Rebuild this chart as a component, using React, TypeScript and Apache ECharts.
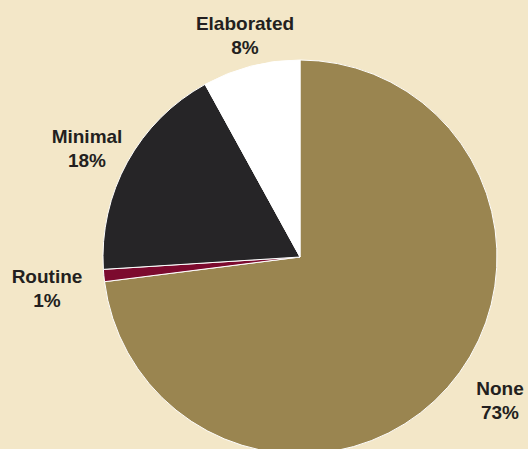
import React, { useEffect, useRef } from "react";
import * as echarts from "echarts";

const categories = ["None", "Routine", "Minimal", "Elaborated"];
const values = [73, 1, 18, 8];
const colors = ["#9A8550", "#7C0A2E", "#262527", "#FFFFFF"];
const labelPos: [number, number][] = [
  [500, 400],
  [47, 288],
  [87, 148],
  [245, 35],
];

export default function App() {
  const ref = useRef<HTMLDivElement>(null);
  useEffect(() => {
    document.body.style.margin = "0";
    if (!ref.current) return;
    const chart = echarts.init(ref.current, null, { renderer: "svg" });
    chart.setOption({
      animation: false,
      backgroundColor: "#F3E7C8",
      series: [
        {
          type: "pie",
          center: [300, 257],
          radius: 197,
          startAngle: 90,
          clockwise: true,
          data: categories.map((name, i) => ({
            name,
            value: values[i],
            itemStyle: { color: colors[i] },
          })),
          itemStyle: { borderColor: "#FFFFFF", borderWidth: 1 },
          label: {
            show: true,
            position: "outside",
            alignTo: "none",
            overflow: "none",
            formatter: "{b}\n{c}%",
            fontFamily: "Liberation Sans, Arial, sans-serif",
            fontWeight: "bold",
            fontSize: 19,
            lineHeight: 24,
            color: "#231F20",
            align: "center",
          },
          labelLine: { show: false },
          labelLayout: (params: any) => ({
            x: labelPos[params.dataIndex][0],
            y: labelPos[params.dataIndex][1],
            align: "center",
            verticalAlign: "middle",
            width: 120,
          }),
          emphasis: { disabled: true },
        },
      ],
    });
    return () => chart.dispose();
  }, []);
  return <div ref={ref} style={{ width: 528, height: 449 }} />;
}
